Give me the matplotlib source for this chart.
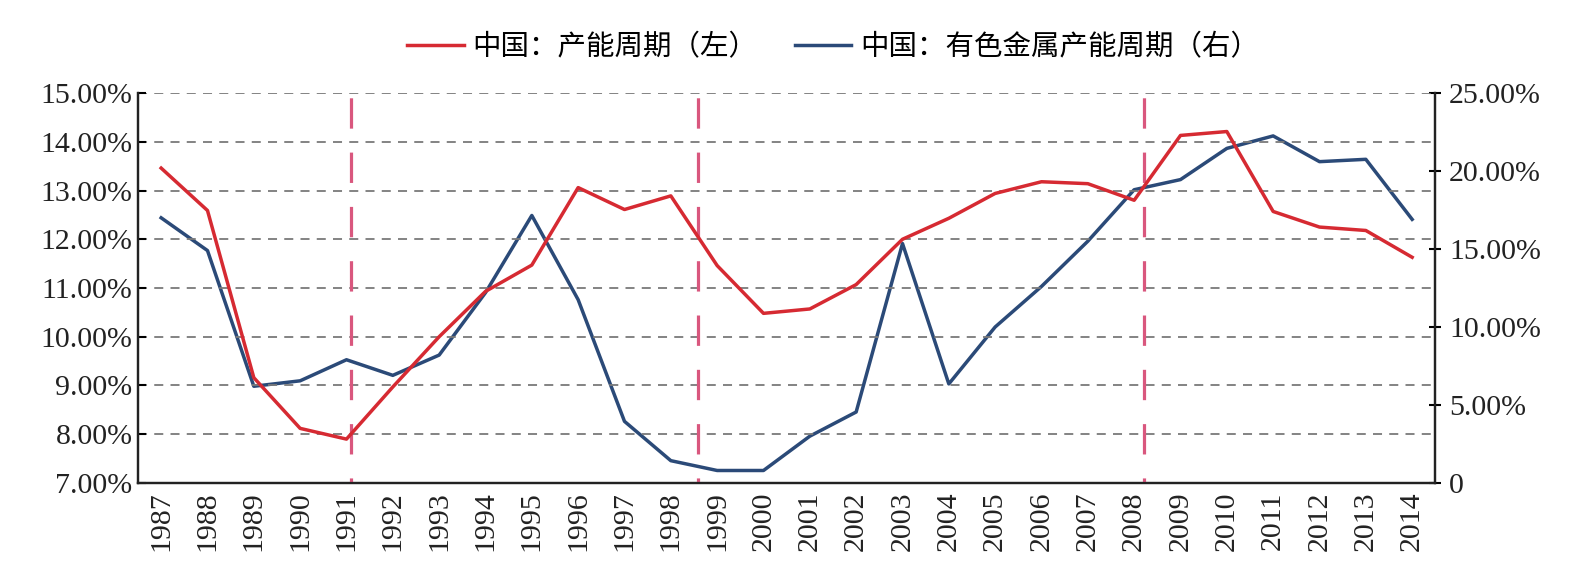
import matplotlib.pyplot as plt
import numpy as np

# 数据
years = [str(y) for y in range(1987, 2015)]
capacity = [13.46, 12.59, 9.16, 8.12, 7.90, 8.97, 10.00, 10.93, 11.47, 13.06,
            12.61, 12.89, 11.46, 10.48, 10.57, 11.07, 12.00, 12.43, 12.94, 13.18,
            13.14, 12.80, 14.13, 14.21, 12.57, 12.25, 12.18, 11.63]
metals = [17.00, 14.90, 6.20, 6.55, 7.90, 6.90, 8.20, 12.20, 17.15, 11.75,
          3.95, 1.43, 0.80, 0.80, 3.00, 4.55, 15.35, 6.35, 10.00, 12.60,
          15.50, 18.80, 19.45, 21.45, 22.25, 20.60, 20.75, 16.90]
cycle_marks = [4.1, 11.58, 21.22]
left_ticks = [7, 8, 9, 10, 11, 12, 13, 14, 15]
right_ticks = [0, 5, 10, 15, 20, 25]

label_left = '中国：产能周期（左）'
label_right = '中国：有色金属产能周期（右）'

plt.rcParams['font.family'] = ['Liberation Serif', 'Noto Sans CJK SC']

red = '#d62a32'
blue = '#2b4a78'
pink = '#d9577e'

fig, ax = plt.subplots(figsize=(15.86, 5.76), dpi=100)
fig.subplots_adjust(left=0.087, right=0.905, top=0.8385, bottom=0.1615)
ax2 = ax.twinx()

x = np.arange(len(years))

ax.set_zorder(ax2.get_zorder() + 1)
ax.patch.set_visible(False)

l1, = ax.plot(x, capacity, color=red, lw=2.5, label=label_left, zorder=4)
l2, = ax2.plot(x, metals, color=blue, lw=2.5, label=label_right, zorder=3)

# 网格线
for v in left_ticks[1:]:
    ax.axhline(v, color='#7a7a7a', lw=1.3, ls=(0, (5, 4)), zorder=1)

# 周期分界线（从上往下画，虚线从顶部开始）
for m in cycle_marks:
    ax.plot([m, m], [15, 7], color=pink, lw=2.3, ls=(-1.5, (9.5, 7.5)), zorder=2)

ax.set_xlim(-0.5, len(years) - 0.5)
ax.set_ylim(7, 15)
ax2.set_ylim(0, 25)

ax.set_xticks(x)
ax.set_xticklabels(years, rotation=90, fontsize=21.5, color='#222222')
ax.set_yticks(left_ticks)
ax.set_yticklabels(['%.2f%%' % v for v in left_ticks], fontsize=21.5, color='#222222')
ax2.set_yticks(right_ticks)
ax2.set_yticklabels(['0'] + ['%.2f%%' % v for v in right_ticks[1:]], fontsize=21.5, color='#222222')

ax.tick_params(axis='x', length=0, pad=6)
ax.tick_params(axis='y', direction='in', length=6, width=1.5, pad=4)
ax2.tick_params(axis='y', direction='inout', length=8, width=1.5, pad=6)

for a in (ax, ax2):
    a.spines['top'].set_visible(False)
    for s in ('left', 'right', 'bottom'):
        a.spines[s].set_linewidth(1.6)
        a.spines[s].set_color('#222222')

fig.legend(handles=[l1, l2], loc='center', bbox_to_anchor=(833 / 1586, 1 - 47 / 576),
           ncol=2, frameon=False, handlelength=2.0, handletextpad=0.3,
           columnspacing=1.3, prop={'family': ['Noto Sans CJK SC'], 'size': 20.5})

plt.savefig('out.png', dpi=100)
